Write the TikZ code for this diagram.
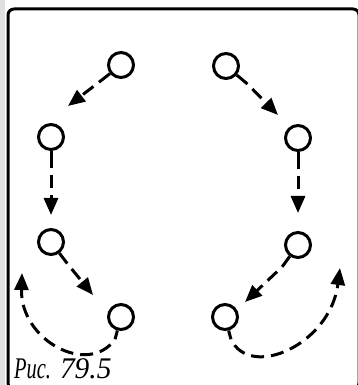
\documentclass[tikz,border=0pt]{standalone}
\usepackage{fontspec}
\setmainfont{Liberation Serif}
\usepackage{graphicx}
\usetikzlibrary{arrows.meta}
\tikzset{
  ring/.style={circle, draw, line width=3pt, minimum size=25pt, inner sep=0pt},
  stem/.style={line width=3pt},
  link/.style={line width=3pt, dash pattern=on 13pt off 7pt, dash phase=13pt, -{Triangle[length=17pt,width=14pt]}},
  frame/.style={line width=3pt, rounded corners=6pt},
  caption/.style={font=\itshape\fontsize{30pt}{31pt}\selectfont, inner sep=0pt, anchor=base west},
}
\begin{document}
\begin{tikzpicture}[x=1pt,y=1pt]
\useasboundingbox (0,0) rectangle (358,385);
\fill[black!12] (0,0) rectangle (5,385);
\draw[frame] (8,-4) rectangle (359,376);
% circles
\node[ring] (A) at (121,320) {};
\node[ring] (B) at (51,248) {};
\node[ring] (C) at (51,143) {};
\node[ring] (D) at (121,68) {};
\node[ring] (E) at (226,319) {};
\node[ring] (F) at (298,247) {};
\node[ring] (G) at (298,140) {};
\node[ring] (H) at (225,68) {};
% stems
\draw[stem] (A.218) -- ++(218:14) coordinate (As);
\draw[stem] (E.320) -- ++(320:14) coordinate (Es);
\draw[stem] (B.270) -- ++(270:17) coordinate (Bs);
\draw[stem] (F.270) -- ++(270:17) coordinate (Fs);
\draw[stem] (C.307) -- ++(307:13) coordinate (Cs);
\draw[stem] (G.234) -- ++(234:13) coordinate (Gs);
\draw[stem] (D.255) -- ++(255:9) coordinate (Ds);
\draw[stem] (H.285) -- ++(285:9) coordinate (Hs);
% arrow ends
\coordinate (At) at (68,279);
\coordinate (Et) at (278,270);
\coordinate (Bt) at (51,170);
\coordinate (Ft) at (298,172);
\coordinate (Ct) at (93,90);
\coordinate (Gt) at (245,83);
\coordinate (Dt) at (22,112);
\coordinate (Ht) at (340,117);
% connectors
\draw[link] (As) -- (At);
\draw[link] (Es) -- (Et);
\draw[link] (Bs) -- (Bt);
\draw[link] (Fs) -- (Ft);
\draw[link] (Cs) -- (Ct);
\draw[link] (Gs) -- (Gt);
\draw[link] (Ds) .. controls (88,8) and (20,45) .. (Dt);
\draw[link] (Hs) .. controls (250,5) and (330,40) .. (Ht);
% caption
\node[caption] (cap) at (14,6) {\scalebox{0.68}[1]{Рис.}\hspace{9pt}\scalebox{0.98}[1]{79.5}};
\end{tikzpicture}
\end{document}
